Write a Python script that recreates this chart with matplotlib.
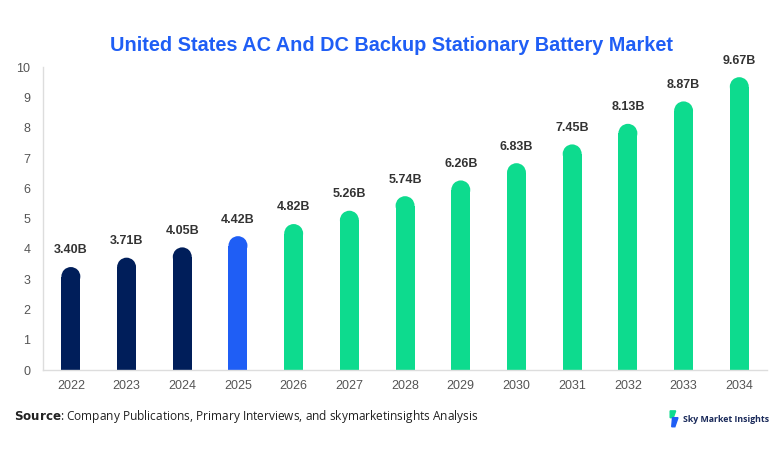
import matplotlib
matplotlib.use("Agg")
import matplotlib.pyplot as plt
from matplotlib.patches import Ellipse, Polygon

years = ["2022", "2023", "2024", "2025", "2026", "2027", "2028",
         "2029", "2030", "2031", "2032", "2033", "2034"]
values = [3.40, 3.71, 4.05, 4.42, 4.82, 5.26, 5.74, 6.26, 6.83, 7.45, 8.13, 8.87, 9.67]
labels = ["3.40B", "3.71B", "4.05B", "4.42B", "4.82B", "5.26B", "5.74B",
          "6.26B", "6.83B", "7.45B", "8.13B", "8.87B", "9.67B"]

navy = "#001E5A"
blue = "#1F5EF5"
green = "#0DDB8E"
colors = [navy] * 3 + [blue] + [green] * 9

fig = plt.figure(figsize=(7.82, 4.54), dpi=100)
ax = fig.add_axes([0.055, 0.185, 0.926, 0.667])

bar_w = 0.34
ax.set_xlim(-0.5, len(years) - 0.5)
ax.set_ylim(0, 10)

# round caps: radius in data units along y
px_per_unit_y = 0.667 * 454 / 10
px_per_unit_x = 0.926 * 782 / len(years)
r_y = bar_w * px_per_unit_x / 2 / px_per_unit_y

for i, (v, c) in enumerate(zip(values, colors)):
    ax.bar(i, v - r_y, width=bar_w, color=c, linewidth=0, zorder=2)
    ax.add_patch(Ellipse((i, v - r_y), bar_w, 2 * r_y, color=c, linewidth=0, zorder=2))
    ax.text(i, v + 0.35, labels[i], ha="center", va="bottom", fontsize=9,
            fontweight="bold", color="#333333", family="Liberation Sans")

ax.set_xticks(range(len(years)))
ax.set_xticklabels(years)
ax.set_yticks(range(0, 11))
for lab in ax.get_xticklabels() + ax.get_yticklabels():
    lab.set_family("Liberation Sans")
    lab.set_fontsize(9)
    lab.set_color("#555555")
ax.tick_params(length=0, pad=7)
ax.tick_params(axis="y", pad=9)

for s in ["top", "right"]:
    ax.spines[s].set_visible(False)
for s in ["left", "bottom"]:
    ax.spines[s].set_color("#dddddd")
    ax.spines[s].set_linewidth(1)

fig.text(0.5, 0.9, "United States AC And DC Backup Stationary Battery Market",
         ha="center", va="center", fontsize=14.3, fontweight="bold",
         color="#1F5EF5", family="Liberation Sans")

fig.text(0.018, 0.083, r"$\bf{Source}$: Company Publications, Primary Interviews, and skymarketinsights Analysis",
         ha="left", va="center", fontsize=8.6, color="#222222", family="Open Sans")

# logo
fig.text(0.874, 0.077, "Sky Market Insights", ha="left", va="center",
         fontsize=6.3, fontweight="bold", color="#1a2a5a", family="Open Sans")
fig.patches.append(Polygon([(0.857, 0.095), (0.864, 0.095), (0.861, 0.08), (0.857, 0.08)],
                           closed=True, transform=fig.transFigure, color=green))
fig.patches.append(Polygon([(0.860, 0.08), (0.867, 0.08), (0.863, 0.06), (0.859, 0.06)],
                           closed=True, transform=fig.transFigure, color=blue))

fig.savefig("out.png", dpi=100)
